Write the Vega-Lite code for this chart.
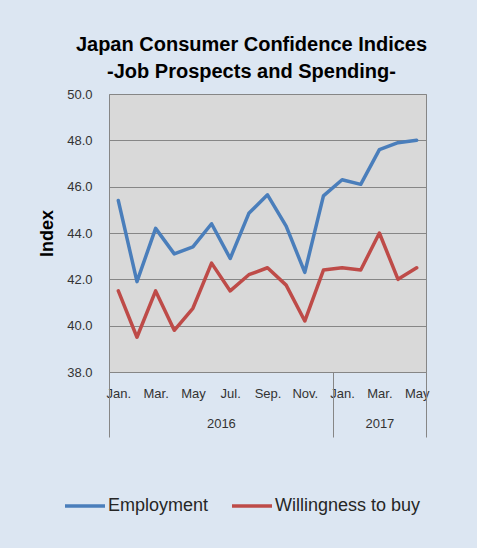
{
  "$schema": "https://vega.github.io/schema/vega-lite/v6.json",
  "width": 317,
  "height": 278,
  "autosize": {"type": "none"},
  "padding": {"left": 109, "top": 94, "right": 51, "bottom": 176},
  "title": {
    "text": ["Japan Consumer Confidence Indices", "-Job Prospects and Spending-"],
    "font": "Liberation Sans",
    "fontSize": 20,
    "fontWeight": "bold",
    "color": "#000000",
    "anchor": "middle",
    "frame": "group",
    "dx": -16,
    "offset": 6,
    "lineHeight": 27
  },
  "data": {
    "values": [
      {"m": 1, "month": "2016-01", "series": "Employment", "value": 45.4},
      {"m": 2, "month": "2016-02", "series": "Employment", "value": 41.9},
      {"m": 3, "month": "2016-03", "series": "Employment", "value": 44.2},
      {"m": 4, "month": "2016-04", "series": "Employment", "value": 43.1},
      {"m": 5, "month": "2016-05", "series": "Employment", "value": 43.4},
      {"m": 6, "month": "2016-06", "series": "Employment", "value": 44.4},
      {"m": 7, "month": "2016-07", "series": "Employment", "value": 42.9},
      {"m": 8, "month": "2016-08", "series": "Employment", "value": 44.85},
      {"m": 9, "month": "2016-09", "series": "Employment", "value": 45.65},
      {"m": 10, "month": "2016-10", "series": "Employment", "value": 44.3},
      {"m": 11, "month": "2016-11", "series": "Employment", "value": 42.3},
      {"m": 12, "month": "2016-12", "series": "Employment", "value": 45.6},
      {"m": 13, "month": "2017-01", "series": "Employment", "value": 46.3},
      {"m": 14, "month": "2017-02", "series": "Employment", "value": 46.1},
      {"m": 15, "month": "2017-03", "series": "Employment", "value": 47.6},
      {"m": 16, "month": "2017-04", "series": "Employment", "value": 47.9},
      {"m": 17, "month": "2017-05", "series": "Employment", "value": 48.0},
      {"m": 1, "month": "2016-01", "series": "Willingness to buy", "value": 41.5},
      {"m": 2, "month": "2016-02", "series": "Willingness to buy", "value": 39.5},
      {"m": 3, "month": "2016-03", "series": "Willingness to buy", "value": 41.5},
      {"m": 4, "month": "2016-04", "series": "Willingness to buy", "value": 39.8},
      {"m": 5, "month": "2016-05", "series": "Willingness to buy", "value": 40.75},
      {"m": 6, "month": "2016-06", "series": "Willingness to buy", "value": 42.7},
      {"m": 7, "month": "2016-07", "series": "Willingness to buy", "value": 41.5},
      {"m": 8, "month": "2016-08", "series": "Willingness to buy", "value": 42.2},
      {"m": 9, "month": "2016-09", "series": "Willingness to buy", "value": 42.5},
      {"m": 10, "month": "2016-10", "series": "Willingness to buy", "value": 41.75},
      {"m": 11, "month": "2016-11", "series": "Willingness to buy", "value": 40.2},
      {"m": 12, "month": "2016-12", "series": "Willingness to buy", "value": 42.4},
      {"m": 13, "month": "2017-01", "series": "Willingness to buy", "value": 42.5},
      {"m": 14, "month": "2017-02", "series": "Willingness to buy", "value": 42.4},
      {"m": 15, "month": "2017-03", "series": "Willingness to buy", "value": 44.0},
      {"m": 16, "month": "2017-04", "series": "Willingness to buy", "value": 42.0},
      {"m": 17, "month": "2017-05", "series": "Willingness to buy", "value": 42.5}
    ]
  },
  "encoding": {
    "y": {
      "field": "value",
      "type": "quantitative",
      "scale": {"domain": [38, 50], "nice": false, "zero": false},
      "axis": {
        "title": "Index",
        "values": [38, 40, 42, 44, 46, 48, 50],
        "format": ".1f",
        "grid": true,
        "ticks": false,
        "tickSize": 0,
        "domain": false,
        "labelPadding": 17,
        "labelFontSize": 13,
        "titleFontSize": 18,
        "titleFontWeight": "bold",
        "titleColor": "#000000",
        "titleFont": "Liberation Sans",
        "titlePadding": 10
      }
    }
  },
  "layer": [
    {
      "mark": {"type": "line", "strokeWidth": 3.5, "strokeCap": "round", "strokeJoin": "round"},
      "encoding": {
        "x": {
          "field": "m",
          "type": "quantitative",
          "scale": {"domain": [0.5, 17.5], "nice": false, "zero": false},
          "axis": {
            "orient": "bottom",
            "title": null,
            "values": [1, 3, 5, 7, 9, 11, 13, 15, 17],
            "labelExpr": "['Jan.','Feb.','Mar.','Apr.','May','Jun.','Jul.','Aug.','Sep.','Oct.','Nov.','Dec.'][(datum.value - 1) % 12]",
            "grid": false,
            "ticks": false,
            "tickSize": 0,
            "domain": true,
            "labelFlush": false,
            "labelOverlap": false,
            "labelPadding": 15,
            "labelFontSize": 13
          }
        },
        "color": {
          "field": "series",
          "type": "nominal",
          "scale": {"domain": ["Employment", "Willingness to buy"], "range": ["#4a7ebb", "#be4b48"]},
          "legend": {
            "title": null,
            "orient": "none",
            "direction": "horizontal",
            "legendX": -46,
            "legendY": 390,
            "symbolType": "stroke",
            "symbolSize": 1600,
            "symbolStrokeWidth": 3.5,
            "labelFontSize": 18,
            "labelFont": "Liberation Sans",
            "labelColor": "#262626",
            "labelOffset": 1,
            "columnPadding": 16,
            "padding": 0
          }
        }
      }
    },
    {
      "mark": {"type": "point", "opacity": 0},
      "encoding": {
        "x": {
          "field": "m",
          "type": "quantitative",
          "axis": {
            "orient": "bottom",
            "title": null,
            "values": [6.5, 15],
            "labelExpr": "datum.value < 13 ? '2016' : '2017'",
            "grid": false,
            "ticks": false,
            "tickSize": 0,
            "domain": false,
            "labelFlush": false,
            "labelOverlap": false,
            "labelPadding": 45,
            "labelFontSize": 13
          }
        }
      }
    },
    {
      "mark": {"type": "point", "opacity": 0},
      "encoding": {
        "x": {
          "field": "m",
          "type": "quantitative",
          "axis": {
            "orient": "bottom",
            "title": null,
            "values": [0.5, 12.5, 17.5],
            "labels": false,
            "grid": false,
            "ticks": true,
            "tickSize": 65,
            "tickColor": "#868686",
            "domain": false
          }
        }
      }
    }
  ],
  "resolve": {"axis": {"x": "independent"}},
  "config": {
    "background": "#dce6f2",
    "font": "Liberation Sans",
    "view": {"fill": "#d9d9d9", "stroke": "#868686", "strokeWidth": 1},
    "axis": {
      "labelFont": "Liberation Sans",
      "labelColor": "#333333",
      "domainColor": "#868686",
      "gridColor": "#868686",
      "tickColor": "#868686"
    }
  }
}
